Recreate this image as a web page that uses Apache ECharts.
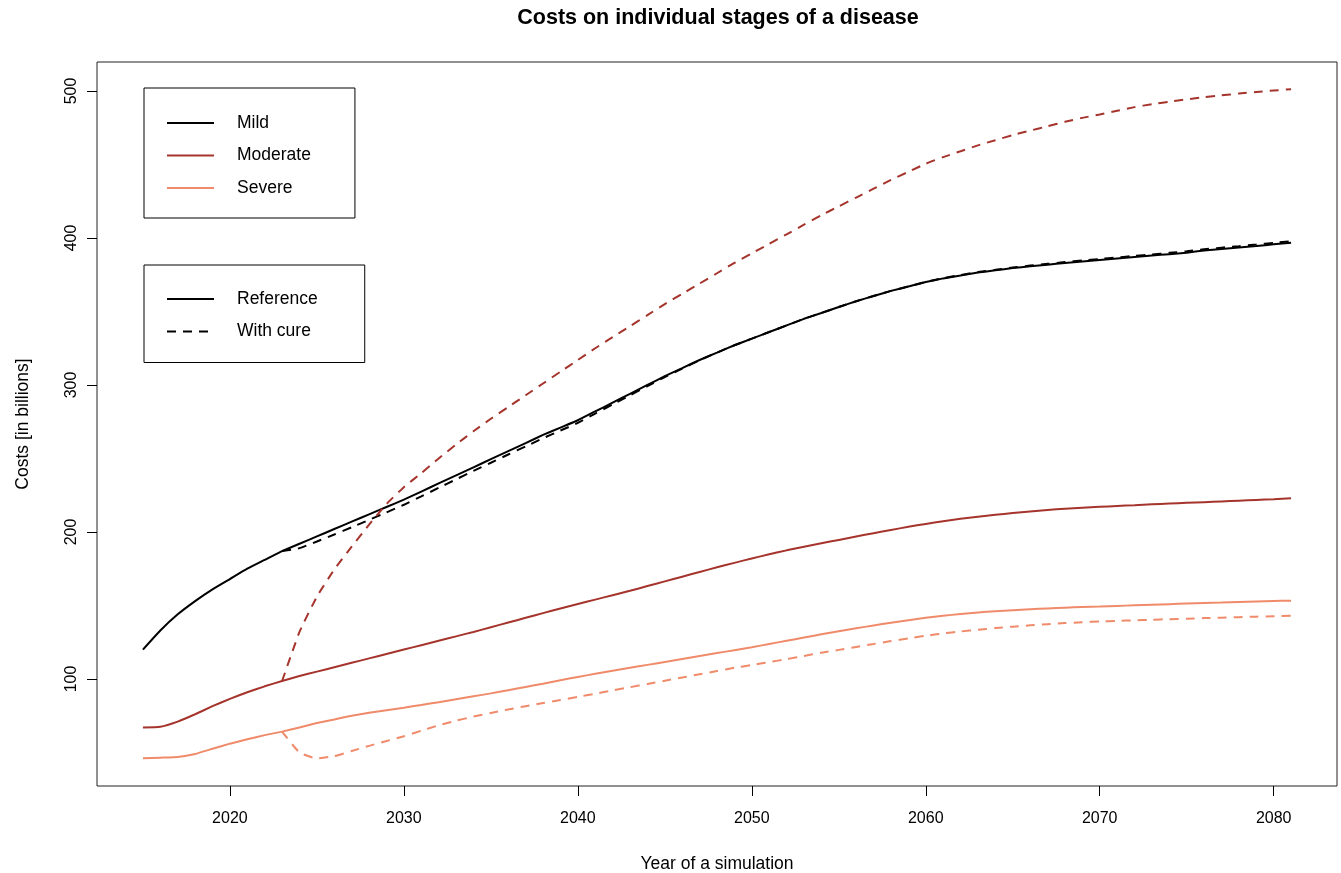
<!DOCTYPE html>
<html>
<head>
<meta charset="utf-8">
<title>Costs on individual stages of a disease</title>
<script src="https://cdn.jsdelivr.net/npm/echarts@6/dist/echarts.min.js"></script>
<style>
  html, body { margin: 0; padding: 0; background: #fff; }
  #chart { width: 1341px; height: 873px; }
</style>
</head>
<body>
<div id="chart"></div>
<script>
// Simulated yearly costs (billions) per disease stage
const years = [];
for (let y = 2015; y <= 2081; y++) years.push(y);
const cureYears = years.filter(y => y >= 2023);

const mildReference = [
  120, 133, 144, 153, 161, 168, 175, 181, 187, 192,
  197, 202, 207, 212, 217, 222, 227.5, 233, 238.5, 244,
  249.5, 255, 260.5, 266, 271, 276, 282, 288, 294, 300,
  306, 311.5, 317, 322, 327, 331.5, 336, 340.5, 345, 349,
  353, 357, 360.5, 364, 367, 370, 372.5, 374.5, 376.5, 378,
  379.5, 380.7, 381.8, 383, 384, 385, 386, 387, 388, 389,
  390, 391.5, 392.5, 393.5, 394.5, 395.7, 396.8
];
const moderateReference = [
  67, 67.5, 71, 76, 81.5, 86.5, 91, 95, 98.6, 102,
  105, 108, 111, 114, 117, 120, 123, 126, 129, 132,
  135.2, 138.4, 141.6, 144.8, 148, 151, 154, 157, 160, 163.2,
  166.4, 169.6, 172.8, 176, 179, 182, 184.8, 187.5, 190, 192.3,
  194.6, 196.9, 199.2, 201.4, 203.5, 205.5, 207.3, 209, 210.4, 211.7,
  212.9, 214, 215, 215.8, 216.5, 217.1, 217.7, 218.2, 218.8, 219.3,
  219.8, 220.3, 220.8, 221.3, 221.8, 222.3, 222.9
];
const severeReference = [
  46, 46.5, 47, 49, 52.5, 56, 59, 61.8, 64.2, 67,
  70, 72.5, 75, 77, 78.8, 80.5, 82.3, 84.2, 86.2, 88.2,
  90.2, 92.4, 94.6, 96.8, 99.1, 101.4, 103.5, 105.6, 107.6, 109.6,
  111.6, 113.6, 115.6, 117.6, 119.6, 121.6, 123.8, 126, 128.2, 130.4,
  132.5, 134.5, 136.4, 138.3, 140, 141.6, 143, 144.2, 145.2, 146.1,
  146.8, 147.4, 148, 148.5, 149, 149.3, 149.7, 150.1, 150.5, 150.9,
  151.3, 151.7, 152, 152.4, 152.7, 153, 153.3
];

const mildWithCure = [
  187, 189, 193.5, 198.3, 203.2, 208.2, 213.3, 218.5, 224.2, 230,
  235.8, 241.5, 247.1, 252.7, 258.2, 263.8, 269, 274.2, 280.5, 286.8,
  293, 299.2, 305.4, 311.1, 316.8, 322, 327, 331.5, 336, 340.5,
  345, 349, 353, 357, 360.5, 364, 367, 370.1, 372.7, 374.8,
  376.8, 378.3, 379.9, 381.2, 382.4, 383.6, 384.7, 385.7, 386.7, 387.8,
  388.8, 389.9, 390.9, 392.3, 393.4, 394.4, 395.5, 396.7, 397.8
];
const moderateWithCure = [
  98.6, 132, 156, 174.5, 190, 205, 219, 230.5, 240, 250,
  259.5, 268.5, 277, 285, 293, 301, 309, 317, 325, 332.5,
  340, 347.5, 355, 362, 369, 376, 383, 389.5, 396, 402.5,
  409, 415.5, 421.5, 427.5, 433.5, 439.5, 445, 450.5, 455, 459,
  463, 466.5, 470, 473, 476, 479, 481.7, 484, 486.5, 489,
  491, 492.7, 494.3, 495.7, 497, 498.2, 499.3, 500.3, 501.2
];
const severeWithCure = [
  64.2, 50, 46, 47.5, 51, 54.5, 57.8, 61, 64.8, 68.5,
  71.6, 74.4, 76.9, 79.3, 81.5, 83.6, 85.7, 87.8, 90, 92.2,
  94.4, 96.6, 98.8, 101, 103.2, 105.4, 107.6, 109.5, 111.5, 113.5,
  115.7, 117.8, 119.8, 121.8, 123.8, 125.8, 127.6, 129.4, 131, 132.3,
  133.5, 134.6, 135.6, 136.5, 137.3, 138, 138.6, 139.1, 139.5, 139.9,
  140.3, 140.7, 141, 141.4, 141.7, 142, 142.4, 142.7, 143
];

const xTicks = [2020, 2030, 2040, 2050, 2060, 2070, 2080];
const yTicks = [100, 200, 300, 400, 500];

const stageColors = { Mild: '#000000', Moderate: '#A5342C', Severe: '#EF8B6A' };
const FONT = '"Liberation Sans", Arial, Helvetica, sans-serif';
const DASH = [9, 7];

function pairs(xs, vs) { return xs.map((x, i) => [x, vs[i]]); }

function curve(name, color, xs, vs, dashed) {
  return {
    name: name,
    type: 'line',
    data: pairs(xs, vs),
    showSymbol: false,
    symbol: 'none',
    smooth: 0.15,
    silent: true,
    z: dashed ? 3 : 2,
    lineStyle: { color: color, width: 2, type: dashed ? DASH : 'solid' },
    itemStyle: { color: color }
  };
}

const chart = echarts.init(document.getElementById('chart'), null, { renderer: 'canvas' });

const legendBox = {
  orient: 'vertical',
  selectedMode: false,
  itemWidth: 47,
  itemHeight: 14,
  itemGap: 12.5,
  borderColor: '#000',
  borderWidth: 1,
  borderRadius: 0,
  itemStyle: { opacity: 0 },
  textStyle: { fontFamily: FONT, fontSize: 17.5, color: '#000', lineHeight: 20, padding: [0, 0, 0, 18] }
};

chart.setOption({
  animation: false,
  backgroundColor: '#fff',
  title: {
    text: 'Costs on individual stages of a disease',
    left: 713,
    textAlign: 'center',
    top: 2,
    textStyle: { fontFamily: FONT, fontSize: 21.5, fontWeight: 'bold', color: '#000' }
  },
  legend: [
    Object.assign({}, legendBox, {
      left: 144, top: 88,
      padding: [25, 44, 20, 22],
      data: ['Mild', 'Moderate', 'Severe']
    }),
    Object.assign({}, legendBox, {
      left: 144, top: 265,
      padding: [24, 47, 21, 22],
      data: ['Reference', 'With cure']
    })
  ],
  grid: {
    left: 97, right: 4, top: 62, bottom: 87,
    outerBoundsMode: 'none',
    containLabel: false,
    show: true, borderColor: '#222', borderWidth: 1, backgroundColor: 'transparent'
  },
  xAxis: {
    type: 'value',
    min: 2012.36, max: 2083.64,
    name: 'Year of a simulation',
    nameLocation: 'middle',
    nameGap: 69,
    nameTextStyle: { fontFamily: FONT, fontSize: 17.5, color: '#000' },
    axisLine: { show: false },
    axisTick: { show: true, length: 10, inside: false, customValues: xTicks, lineStyle: { color: '#000' } },
    axisLabel: { customValues: xTicks, margin: 25, fontFamily: FONT, fontSize: 16, color: '#000', formatter: v => String(v) },
    splitLine: { show: false }
  },
  yAxis: {
    type: 'value',
    min: 27.2, max: 519.7,
    name: 'Costs [in billions]',
    nameLocation: 'middle',
    nameGap: 65,
    nameRotate: 90,
    nameTextStyle: { fontFamily: FONT, fontSize: 17.5, color: '#000' },
    axisLine: { show: false },
    axisTick: { show: true, length: 10, inside: false, customValues: yTicks, lineStyle: { color: '#000' } },
    axisLabel: { customValues: yTicks, rotate: 90, margin: 17, fontFamily: FONT, fontSize: 16, color: '#000', formatter: v => String(v) },
    splitLine: { show: false }
  },
  series: [
    curve('Mild', stageColors.Mild, years, mildReference, false),
    curve('Moderate', stageColors.Moderate, years, moderateReference, false),
    curve('Severe', stageColors.Severe, years, severeReference, false),
    curve('Mild with cure', stageColors.Mild, cureYears, mildWithCure, true),
    curve('Moderate with cure', stageColors.Moderate, cureYears, moderateWithCure, true),
    curve('Severe with cure', stageColors.Severe, cureYears, severeWithCure, true),
    // line-type key entries
    curve('Reference', '#000', [], [], false),
    curve('With cure', '#000', [], [], true)
  ]
});
</script>
</body>
</html>
